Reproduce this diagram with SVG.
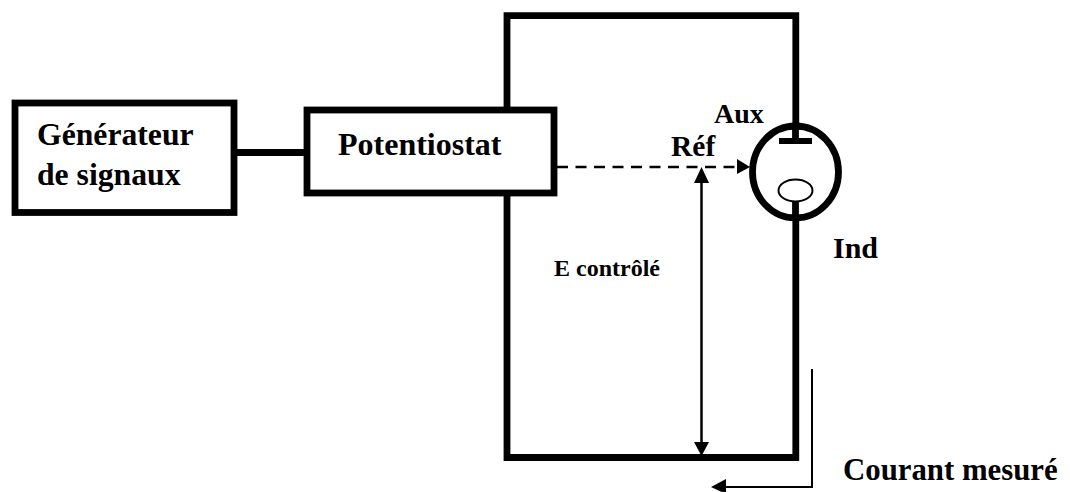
<svg xmlns="http://www.w3.org/2000/svg" width="1070" height="492" viewBox="0 0 1070 492">
<style>
.t{font-family:"Liberation Serif","Times New Roman",serif;font-weight:700;fill:#000}
.box{fill:#fff;stroke:#000;stroke-width:6.8}
.w{fill:none;stroke:#000;stroke-width:6.8}
</style>
<rect width="1070" height="492" fill="#fff"/>
<g id="connectors">
<path class="w" d="M507 108V15.700H795.800V130M507 193V457.500H795.800V200" stroke-linejoin="miter"/>
<path class="w" d="M234 152.500H307"/>
<path d="M557 167H738" fill="none" stroke="#000" stroke-width="2.500" stroke-dasharray="11 7.500"/>
<polygon points="737,159 750,167 737,174"/>
<path d="M701.500 180V443" stroke="#000" stroke-width="2.500"/>
<polygon points="701.500,167 709,183 694,183"/>
<polygon points="701.500,456 694,442 709,442"/>
<path d="M812 369V487H722" fill="none" stroke="#000" stroke-width="2"/>
<polygon points="711,487 726,479 726,494"/>
</g>
<g id="generateur">
<rect class="box" x="15" y="103" width="219" height="109.500"/>
<text class="t" x="37" y="145" font-size="31.700">Générateur</text>
<text class="t" x="37" y="185" font-size="31.700">de signaux</text>
</g>
<g id="potentiostat">
<rect class="box" x="307" y="110" width="247" height="83"/>
<text class="t" x="338" y="155" font-size="32">Potentiostat</text>
</g>
<g id="cellule">
<ellipse cx="795.500" cy="172" rx="43" ry="46" fill="#fff" stroke="#000" stroke-width="6.800"/>
<path d="M795.500 125V140" stroke="#000" stroke-width="6.800"/>
<rect x="779" y="138" width="33" height="6"/>
<ellipse cx="795.500" cy="190.500" rx="17" ry="11" fill="#fff" stroke="#000" stroke-width="2"/>
<path d="M795.500 202V220" stroke="#000" stroke-width="6.800"/>
</g>
<g id="labels">
<text class="t" x="714" y="123" font-size="28">Aux</text>
<text class="t" x="671" y="156" font-size="29.500">Réf</text>
<text class="t" x="833" y="258" font-size="30">Ind</text>
<text class="t" x="554" y="276" font-size="24">E contrôlé</text>
<text class="t" x="843" y="480" font-size="30.800">Courant mesuré</text>
</g>
</svg>
